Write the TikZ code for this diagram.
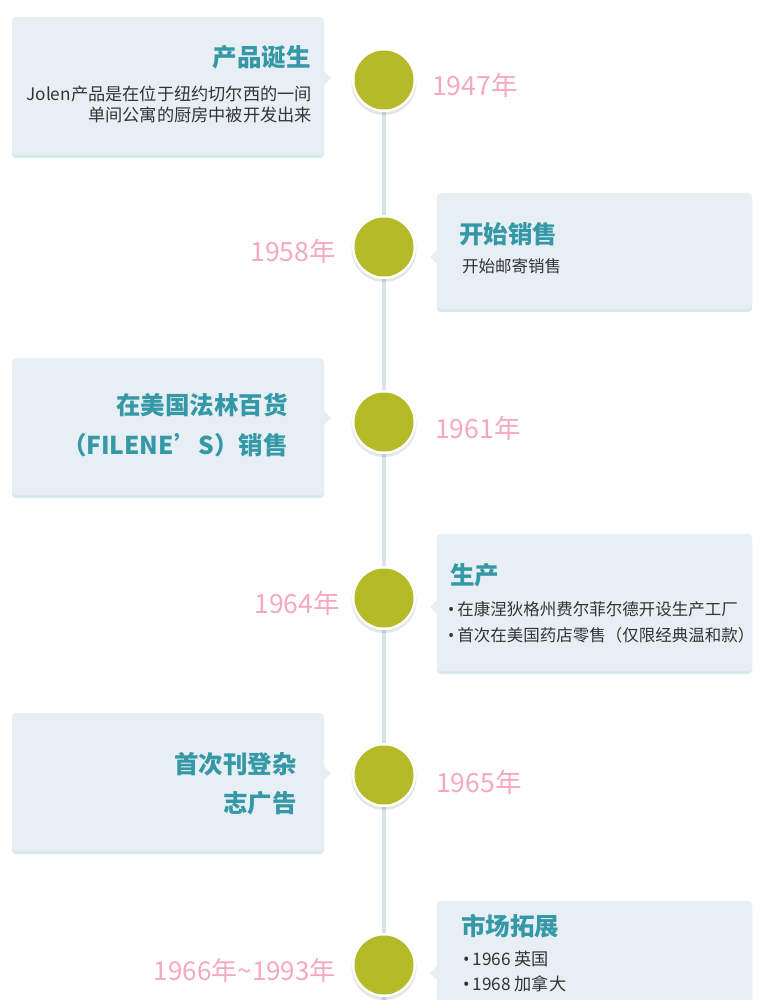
\documentclass[tikz,border=0pt]{standalone}
\usepackage{fontspec}
\setmainfont{Noto Sans CJK SC}
\newfontfamily\bulletfont{Noto Sans}
\newcommand{\bul}{{\bulletfont •}\hspace{3pt}}
\definecolor{cardfill}{HTML}{E7EFF5}
\definecolor{cardedge}{HTML}{D6EAED}
\definecolor{teal1}{HTML}{3598A6}
\definecolor{pink1}{HTML}{F5A8C0}
\definecolor{olive1}{HTML}{B5BA28}
\definecolor{linec}{HTML}{D7E2EC}
\definecolor{txt}{HTML}{333333}
\tikzset{
  card/.style={fill=cardfill, rounded corners=4pt},
  cardshadow/.style={fill=cardedge, rounded corners=4pt},
  ttl/.style={text=teal1, font=\fontsize{24.5}{28}\selectfont\bfseries, inner sep=0pt},
  bodytxt/.style={text=txt, font=\fontsize{16.5}{21}\selectfont, inner sep=0pt},
  bodybig/.style={bodytxt, font=\fontsize{17.2}{21}\selectfont},
  yr/.style={text=pink1, font=\fontsize{26.5}{30}\selectfont, inner sep=0pt},
  yrlong/.style={yr, font=\fontsize{26}{30}\selectfont},
  dot/.style={circle, fill=olive1, minimum size=59pt, inner sep=0pt},
  dotring/.style={fill=white},
  dotshadow/.style={fill=black, opacity=0.10},
  vline/.style={draw=linec, line width=4pt},
}
\begin{document}
\begin{tikzpicture}[x=1pt,y=-1pt]
\useasboundingbox (0,0) rectangle (760,1000);
\clip (0,0) rectangle (760,1000);
% timeline positions
\coordinate (c1) at (384,80);
\coordinate (c2) at (384,247);
\coordinate (c3) at (384,422);
\coordinate (c4) at (384,598);
\coordinate (c5) at (384,775);
\coordinate (c6) at (384,965);
\coordinate (lineend) at (384,1000);
\draw[vline] (c1) -- (lineend);

% cards
\fill[cardshadow] (12,20) rectangle (324,158);
\fill[card] (12,17) rectangle (324,155);
\fill[cardfill] (324,71) -- (331,78) -- (324,85) -- cycle;

\fill[cardshadow] (437,196) rectangle (752,312);
\fill[card] (437,193) rectangle (752,309);
\fill[cardfill] (437,250) -- (430,257) -- (437,264) -- cycle;

\fill[cardshadow] (12,361) rectangle (324,498);
\fill[card] (12,358) rectangle (324,495);
\fill[cardfill] (324,411) -- (331,418) -- (324,425) -- cycle;

\fill[cardshadow] (437,537) rectangle (752,674);
\fill[card] (437,534) rectangle (752,671);
\fill[cardfill] (437,600) -- (430,607) -- (437,614) -- cycle;

\fill[cardshadow] (12,716) rectangle (324,854);
\fill[card] (12,713) rectangle (324,851);
\fill[cardfill] (324,766) -- (331,773) -- (324,780) -- cycle;

\fill[cardshadow] (437,904) rectangle (752,1030);
\fill[card] (437,901) rectangle (752,1027);
\fill[cardfill] (437,966) -- (430,973) -- (437,980) -- cycle;

% dots
\foreach \c in {c1,c2,c3,c4,c5,c6}{
  \fill[dotshadow] ([yshift=-2.5pt]\c) circle (32.5pt);
  \fill[dotring] (\c) circle (32pt);
}
\node[dot] (d1) at (c1) {};
\node[dot] (d2) at (c2) {};
\node[dot] (d3) at (c3) {};
\node[dot] (d4) at (c4) {};
\node[dot] (d5) at (c5) {};
\node[dot] (d6) at (c6) {};

% years
\node[yr, anchor=west] (y1) at (432,85) {1947年};
\node[yr, anchor=east] (y2) at (336,251) {1958年};
\node[yr, anchor=west] (y3) at (435,428) {1961年};
\node[yr, anchor=east] (y4) at (340,603) {1964年};
\node[yr, anchor=west] (y5) at (436,782) {1965年};
\node[yrlong, anchor=east] (y6) at (336,971) {1966年\textasciitilde1993年};

% card 1
\node[ttl, anchor=east] (t1) at (311,57) {产品诞生};
\node[bodybig, anchor=east] (b1a) at (312,94) {Jolen产品是在位于纽约切尔西的一间};
\node[bodybig, anchor=east] (b1b) at (312,115) {单间公寓的厨房中被开发出来};

% card 2
\node[ttl, anchor=west] (t2) at (459,234) {开始销售};
\node[bodytxt, anchor=west] (b2) at (462,266) {开始邮寄销售};

% card 3
\node[ttl, anchor=east] (t3a) at (288,405) {在美国法林百货};
\node[ttl, anchor=east] (t3b) at (288,445) {（FILENE’S）销售};

% card 4
\node[ttl, anchor=west] (t4) at (450,575) {生产};
\node[bodytxt, anchor=west] (b4a) at (448,609) {\bul 在康涅狄格州费尔菲尔德开设生产工厂};
\node[bodytxt, anchor=west] (b4b) at (448,635) {\bul 首次在美国药店零售（仅限经典温和款）};

% card 5
\node[ttl, anchor=east] (t5a) at (297,764) {首次刊登杂};
\node[ttl, anchor=east] (t5b) at (297,803) {志广告};

% card 6
\node[ttl, anchor=west] (t6) at (461,926) {市场拓展};
\node[bodybig, anchor=west] (b6a) at (463,959) {\bul 1966 英国};
\node[bodybig, anchor=west] (b6b) at (463,984) {\bul 1968 加拿大};
\end{tikzpicture}
\end{document}
